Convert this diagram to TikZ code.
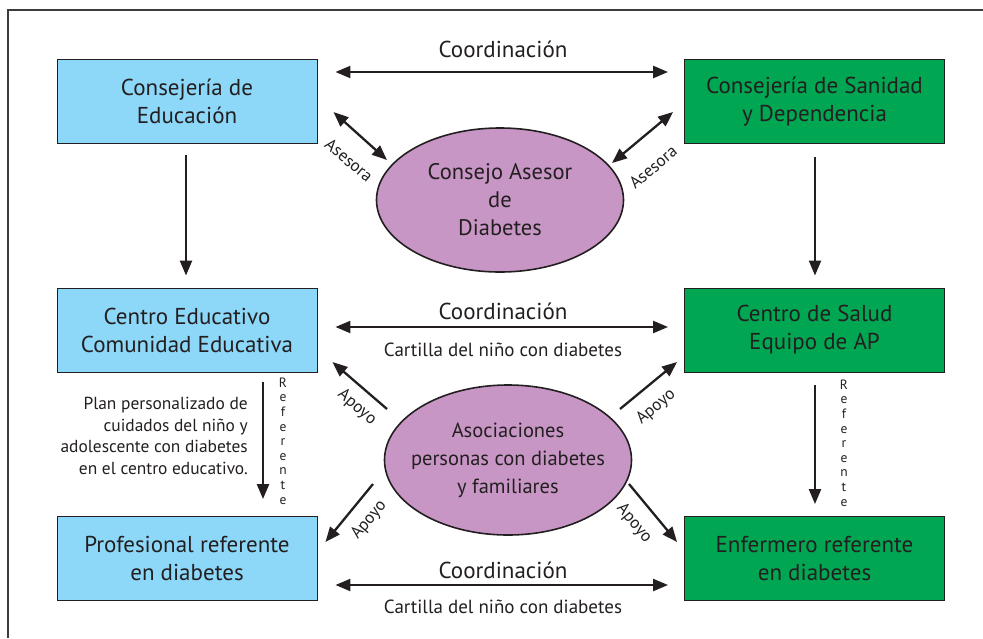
\documentclass[tikz,border=0pt]{standalone}
\usepackage{fontspec}
\setmainfont{PT Sans}
\usetikzlibrary{arrows.meta,calc,shapes.geometric}
\definecolor{lblue}{HTML}{8DD8F8}
\definecolor{dgreen}{HTML}{00A651}
\definecolor{lpurple}{HTML}{C796C5}
\definecolor{ink}{HTML}{231F20}
\definecolor{framec}{HTML}{3C3C3C}
\tikzset{
  box/.style={draw=ink, line width=0.9pt, minimum width=260pt, minimum height=84pt, align=center, text=ink, font=\fontsize{23}{28}\selectfont, inner sep=0pt},
  edu/.style={box, fill=lblue},
  san/.style={box, fill=dgreen},
  ell/.style={ellipse, draw=ink, line width=1.6pt, fill=lpurple, inner sep=0pt},
  etext/.style={align=center, text=ink, inner sep=0pt},
  arr/.style={draw=ink, line width=2.3pt, -{Triangle[length=15pt,width=12pt]}},
  darr/.style={draw=ink, line width=2.3pt, {Triangle[length=15pt,width=12pt]}-{Triangle[length=15pt,width=12pt]}},
  lbl/.style={text=ink, font=\fontsize{23}{26}\selectfont, inner sep=0pt},
  small/.style={text=ink, font=\fontsize{19}{22}\selectfont, inner sep=0pt},
  rlbl/.style={text=ink, font=\fontsize{17}{19}\selectfont, inner sep=0pt},
  vlet/.style={text=ink, font=\fontsize{13.5}{14.6}\selectfont, align=center, inner sep=0pt},
  plan/.style={text=ink, font=\fontsize{17.4}{21.5}\selectfont, align=right, inner sep=0pt},
}
\begin{document}
\begin{tikzpicture}[x=1pt,y=-1pt]
\useasboundingbox (0,0) rectangle (983,638);
\draw[framec, line width=1.3pt] (8,638) -- (8,10) -- (983,10);

% boxes
\node[edu] (b1) at (187,101.5) {Consejería de\\Educación};
\node[san] (b2) at (814.5,101.5) {Consejería de Sanidad\\y Dependencia};
\node[edu] (b3) at (187,330) {Centro Educativo\\Comunidad Educativa};
\node[san] (b4) at (814.5,330) {Centro de Salud\\Equipo de AP};
\node[edu] (b5) at (187,558.5) {Profesional referente\\en diabetes};
\node[san] (b6) at (814.5,558.5) {Enfermero referente\\en diabetes};

% ellipses
\node[ell, minimum width=247pt, minimum height=144pt] (e1) at (500,200) {};
\node[etext, font=\fontsize{22.5}{28}\selectfont] (t1) at (e1.center) {Consejo Asesor\\de\\Diabetes};
\node[ell, minimum width=247pt, minimum height=150pt] (e2) at (508,460) {};
\node[etext, font=\fontsize{20.5}{28}\selectfont] (t2) at (e2.center) {Asociaciones\\personas con diabetes\\y familiares};

% coordination arrows
\draw[darr] ($(b1.east)+(18,-29.5)$) -- ($(b2.west)+(-16,-29.5)$);
\draw[darr] ($(b3.east)+(18,-3)$) -- ($(b4.west)+(-16,-3)$);
\draw[darr] ($(b5.east)+(18,26.5)$) -- ($(b6.west)+(-16,26.5)$);
\node[lbl] (co1) at (503,49) {Coordinación};
\node[lbl] (co2) at (503,311) {Coordinación};
\node[small] (ca2) at (503,350) {Cartilla del niño con diabetes};
\node[lbl] (co3) at (503,570) {Coordinación};
\node[small] (ca3) at (503,607) {Cartilla del niño con diabetes};

% vertical arrows
\draw[arr] ($(b1.south)+(-1,11)$) -- ($(b3.north)+(-1,-12)$);
\draw[arr] ($(b2.south)+(0.5,13)$) -- ($(b4.north)+(0.5,-12)$);
\draw[arr] ($(b3.south)+(76,10)$) -- ($(b5.north)+(76,-17)$);
\draw[arr] ($(b4.south)+(0.5,13)$) -- ($(b6.north)+(0.5,-12)$);
\node[vlet] (r1) at (283,441) {R\\e\\f\\e\\r\\e\\n\\t\\e};
\node[vlet] (r2) at (844,443) {R\\e\\f\\e\\r\\e\\n\\t\\e};
\node[plan, anchor=east] (pl) at (248,436) {Plan personalizado de\\cuidados del niño y\\adolescente con diabetes\\en el centro educativo.};

% asesora
\draw[darr] ($(b1.east)+(16,10.5)$) -- ($(e1.center)+(-113,-40)$);
\draw[darr] ($(b2.west)+(-11,10.5)$) -- ($(e1.center)+(112,-37)$);
\node[rlbl, rotate=-40] (as1) at (349,160) {Asesora};
\node[rlbl, rotate=40] (as2) at (653,167) {Asesora};

% apoyo
\draw[arr] ($(e2.center)+(-121,-51)$) -- ($(b3.east)+(15,32)$);
\draw[arr] ($(e2.center)+(112,-51)$) -- ($(b4.west)+(-7,32)$);
\draw[arr] ($(e2.center)+(-135,24)$) -- ($(b5.east)+(8,-16.5)$);
\draw[arr] ($(e2.center)+(121,24)$) -- ($(b6.west)+(-7,-16.5)$);
\node[rlbl, rotate=-41] (ap1) at (357,407) {Apoyo};
\node[rlbl, rotate=40] (ap2) at (656,407) {Apoyo};
\node[rlbl, rotate=50] (ap3) at (369,520) {Apoyo};
\node[rlbl, rotate=-50] (ap4) at (634,523) {Apoyo};
\end{tikzpicture}
\end{document}
